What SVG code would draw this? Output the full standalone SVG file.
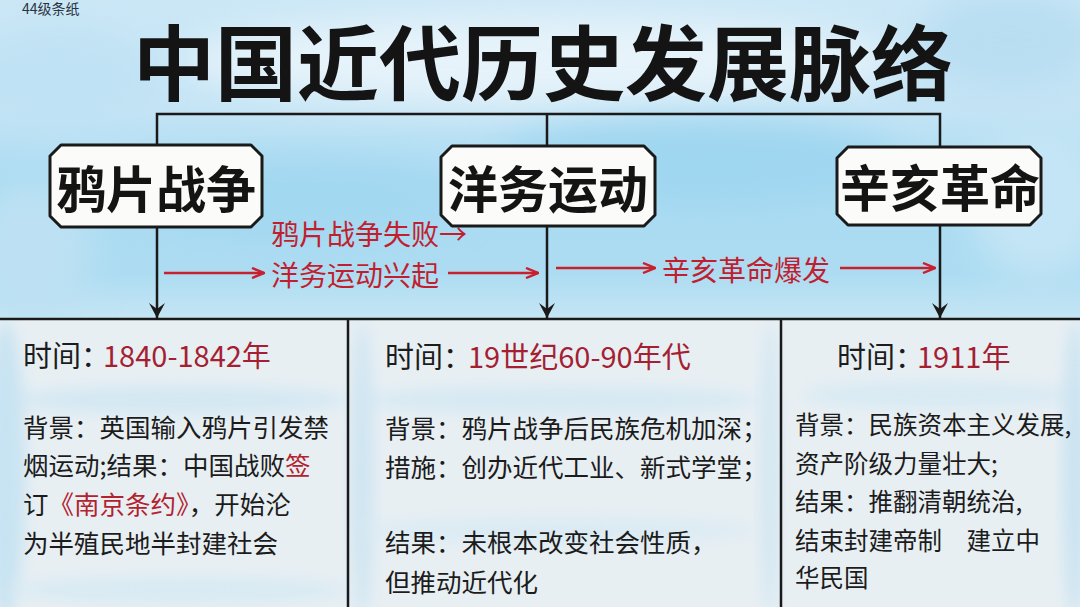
<svg xmlns="http://www.w3.org/2000/svg" width="1080" height="607" viewBox="0 0 1080 607">
  <defs>
    <filter id="blur" x="-30%" y="-30%" width="160%" height="160%">
      <feGaussianBlur stdDeviation="18"/>
    </filter>
    <filter id="blur2" x="-30%" y="-30%" width="160%" height="160%">
      <feGaussianBlur stdDeviation="8"/>
    </filter>
    <linearGradient id="bgGrad" x1="0" y1="0" x2="0" y2="1">
      <stop offset="0" stop-color="#cbe7f6"/>
      <stop offset="0.18" stop-color="#c4e4f5"/>
      <stop offset="0.3" stop-color="#a9dbf2"/>
      <stop offset="0.45" stop-color="#addcf2"/>
      <stop offset="0.53" stop-color="#c6e6f4"/>
      <stop offset="0.56" stop-color="#e3eef4"/>
      <stop offset="1" stop-color="#e9f0f4"/>
    </linearGradient>
    <marker id="downHead" viewBox="0 0 16 16" refX="15" refY="8" markerWidth="16" markerHeight="16" markerUnits="userSpaceOnUse" orient="auto">
      <path d="M0,0 L15,8 L0,16 L6,8 Z" fill="#1a1a1a"/>
    </marker>
    <marker id="redHead" viewBox="0 0 14 12" refX="13" refY="6" markerWidth="14" markerHeight="12" markerUnits="userSpaceOnUse" orient="auto">
      <path d="M1,1 L13,6 L1,11" fill="none" stroke="#c8202f" stroke-width="2.4" stroke-linejoin="miter"/>
    </marker>
    <style>
      .cjk { font-family: "Noto Sans CJK SC", "Noto Sans", sans-serif; }
      .title { font-size: 82px; font-weight: 700; fill: #141414; }
      .box { fill: #fbfbf9; stroke: #1a1a1a; stroke-width: 3; stroke-linejoin: round; }
      .boxText { font-size: 50px; font-weight: 700; fill: #141414; text-anchor: middle; }
      .line { stroke: #1a1a1a; stroke-width: 2.5; fill: none; }
      .redLine { stroke: #c8202f; stroke-width: 2.6; fill: none; marker-end: url(#redHead); }
      .redLabel { font-size: 28px; fill: #c01f30; }
      .time { font-size: 29px; fill: #1c1c1c; }
      .timeVal { fill: #a51f33; }
      .body { font-size: 25.5px; fill: #1c1c1c; }
      .body3 { font-size: 24.5px; fill: #1c1c1c; }
      .hl { fill: #b2222f; }
    </style>
  </defs>

  <!-- background -->
  <g id="background">
    <rect x="0" y="0" width="1080" height="607" fill="url(#bgGrad)"/>
    <ellipse cx="540" cy="60" rx="360" ry="45" fill="#e6f3fa" filter="url(#blur)"/>
    <ellipse cx="1010" cy="40" rx="90" ry="50" fill="#b9def2" filter="url(#blur)"/>
    <ellipse cx="60" cy="80" rx="90" ry="50" fill="#bfe2f4" filter="url(#blur)"/>
    <ellipse cx="700" cy="160" rx="200" ry="40" fill="#9fd6f0" filter="url(#blur)"/>
    <ellipse cx="300" cy="200" rx="160" ry="40" fill="#a3d8f1" filter="url(#blur)"/>
    <ellipse cx="1040" cy="200" rx="70" ry="80" fill="#c4e5f5" filter="url(#blur)"/>
    <ellipse cx="30" cy="250" rx="60" ry="70" fill="#bde1f3" filter="url(#blur)"/>
    <rect x="0" y="320" width="1080" height="287" fill="#e8eff3"/>
    <ellipse cx="180" cy="400" rx="170" ry="14" fill="#d3e8f3" filter="url(#blur2)"/>
    <ellipse cx="560" cy="400" rx="200" ry="14" fill="#d6e9f3" filter="url(#blur2)"/>
    <ellipse cx="940" cy="395" rx="140" ry="14" fill="#d8eaf3" filter="url(#blur2)"/>
    <ellipse cx="5" cy="470" rx="20" ry="150" fill="#c7e3f2" filter="url(#blur2)"/>
    <ellipse cx="1075" cy="470" rx="12" ry="150" fill="#c9e3f1" filter="url(#blur2)"/>
    <ellipse cx="362" cy="470" rx="12" ry="150" fill="#cfe5f2" filter="url(#blur2)"/>
    <ellipse cx="770" cy="470" rx="10" ry="150" fill="#d3e7f2" filter="url(#blur2)"/>
    <ellipse cx="560" cy="530" rx="200" ry="14" fill="#dbebf3" filter="url(#blur2)"/>
    <ellipse cx="180" cy="590" rx="170" ry="14" fill="#d8eaf3" filter="url(#blur2)"/>
  </g>

  <text x="22" y="14" class="cjk" font-size="14" fill="#2a3440">44级条纸</text>

  <text id="title" x="543" y="94" class="cjk title" text-anchor="middle">中国近代历史发展脉络</text>

  <!-- connectors -->
  <g id="connectors">
    <path class="line" d="M157,145 L157,114 L940,114 L940,147 M547,114 L547,146"/>
    <line class="line" x1="157" y1="227" x2="157" y2="318" marker-end="url(#downHead)"/>
    <line class="line" x1="547" y1="226" x2="547" y2="318" marker-end="url(#downHead)"/>
    <line class="line" x1="940" y1="225" x2="940" y2="318" marker-end="url(#downHead)"/>
    <line class="redLine" x1="164" y1="273" x2="264" y2="273"/>
    <line class="redLine" x1="448" y1="273" x2="538" y2="273"/>
    <line class="redLine" x1="556" y1="268" x2="655" y2="268"/>
    <line class="redLine" x1="840" y1="268" x2="935" y2="268"/>
    <text class="cjk redLabel" x="271" y="245">鸦片战争失败→</text>
    <text class="cjk redLabel" x="271" y="286">洋务运动兴起</text>
    <text class="cjk redLabel" x="662" y="281">辛亥革命爆发</text>
  </g>

  <!-- nodes -->
  <g id="node-opium-war">
    <polygon class="box" points="61,145 251,145 262,156 262,216 251,227 61,227 50,216 50,156"/>
    <text class="cjk boxText" x="156" y="208">鸦片战争</text>
  </g>
  <g id="node-self-strengthening">
    <polygon class="box" points="452,146 644,146 655,157 655,215 644,226 452,226 441,215 441,157"/>
    <text class="cjk boxText" x="548" y="208">洋务运动</text>
  </g>
  <g id="node-xinhai">
    <polygon class="box" points="848,147 1030,147 1041,158 1041,214 1030,225 848,225 837,214 837,158"/>
    <text class="cjk boxText" x="940" y="207">辛亥革命</text>
  </g>

  <!-- table -->
  <g id="table">
    <line class="line" x1="0" y1="319" x2="1080" y2="319"/>
    <line class="line" x1="348" y1="319" x2="348" y2="607"/>
    <line class="line" x1="781" y1="319" x2="781" y2="607"/>
  </g>

  <g id="col-opium-war">
    <text class="cjk time" x="23" y="367">时间：<tspan class="timeVal" x="103">1840-1842年</tspan></text>
    <text class="cjk body" x="23" y="437">背景：英国输入鸦片引发禁</text>
    <text class="cjk body" x="23" y="475">烟运动;结果：中国战败<tspan class="hl">签</tspan></text>
    <text class="cjk body" x="23" y="514">订<tspan class="hl">《南京条约》</tspan>，开始沦</text>
    <text class="cjk body" x="23" y="553">为半殖民地半封建社会</text>
  </g>

  <g id="col-self-strengthening">
    <text class="cjk time" x="385" y="368">时间：<tspan class="timeVal" x="468">19世纪60-90年代</tspan></text>
    <text class="cjk body" x="385" y="438" font-size="25">背景：鸦片战争后民族危机加深；</text>
    <text class="cjk body" x="385" y="477" font-size="25">措施：创办近代工业、新式学堂；</text>
    <text class="cjk body" x="385" y="552" font-size="25">结果：未根本改变社会性质，</text>
    <text class="cjk body" x="385" y="592" font-size="25">但推动近代化</text>
  </g>

  <g id="col-xinhai">
    <text class="cjk time" x="837" y="368">时间：<tspan class="timeVal" x="917">1911年</tspan></text>
    <text class="cjk body3" x="795" y="434">背景：民族资本主义发展,</text>
    <text class="cjk body3" x="795" y="473">资产阶级力量壮大;</text>
    <text class="cjk body3" x="795" y="511">结果：推翻清朝统治,</text>
    <text class="cjk body3" x="795" y="550">结束封建帝制　建立中</text>
    <text class="cjk body3" x="795" y="587">华民国</text>
  </g>
</svg>
